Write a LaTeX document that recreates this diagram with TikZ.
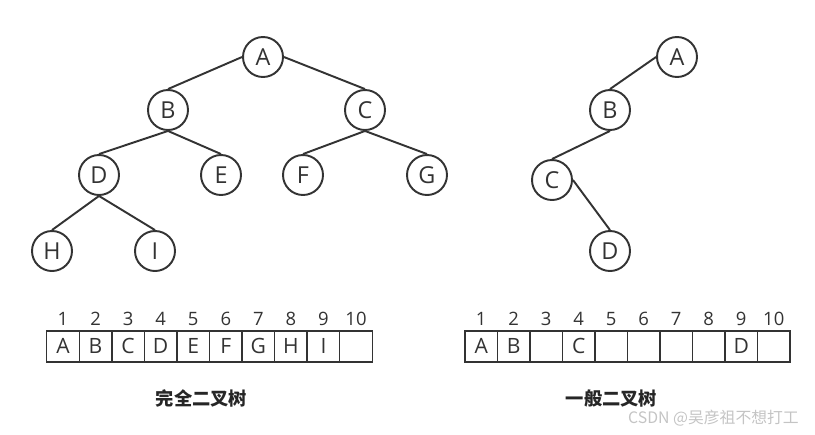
\documentclass[tikz,border=0pt]{standalone}
\usepackage{fontspec}
\setmainfont{Open Sans}
\newfontfamily\cjkfont{Noto Sans CJK SC}
\usetikzlibrary{positioning}
\definecolor{inkGray}{HTML}{333333}
\definecolor{markGray}{HTML}{C4C4C4}
\tikzset{
  treenode/.style={circle, draw=inkGray, line width=1.1pt, minimum size=0.8cm, inner sep=0pt, font=\fontsize{13.3}{15}\selectfont, text=inkGray},
  treeedge/.style={draw=inkGray, line width=1.1pt},
  cell/.style={rectangle, draw=inkGray, line width=0.8pt, minimum width=0.652cm, minimum height=0.62cm, inner sep=0pt, outer sep=0pt, font=\fontsize{12}{14}\selectfont, text=inkGray},
  idx/.style={font=\fontsize{10.5}{12}\selectfont, text=inkGray},
  caption/.style={font=\cjkfont\bfseries\fontsize{10.4}{12}\selectfont, text=black!85},
}
\begin{document}
\begin{tikzpicture}[x=0.02cm,y=-0.02cm]
  \useasboundingbox (0,0) rectangle (815,434);

  % complete binary tree
  \node[treenode] (A) at (263,57) {A};
  \node[treenode] (B) at (168,110) {B};
  \node[treenode] (C) at (365,110) {C};
  \node[treenode] (D) at (99,175) {D};
  \node[treenode] (E) at (221,175) {E};
  \node[treenode] (F) at (303,175) {F};
  \node[treenode] (G) at (427,175) {G};
  \node[treenode] (H) at (52,251) {H};
  \node[treenode] (I) at (155,251) {I};
  \draw[treeedge] (A.west) -- (B.north);
  \draw[treeedge] (A.east) -- (C.north);
  \draw[treeedge] (B.south) -- (D.north);
  \draw[treeedge] (B.south) -- (E.north);
  \draw[treeedge] (C.south) -- (F.north);
  \draw[treeedge] (C.south) -- (G.north);
  \draw[treeedge] (D.south) -- (H.north);
  \draw[treeedge] (D.south) -- (I.north);

  % general binary tree
  \node[treenode] (a) at (677,57) {A};
  \node[treenode] (b) at (610,110) {B};
  \node[treenode] (c) at (552,180) {C};
  \node[treenode] (d) at (610,251) {D};
  \draw[treeedge] (a.west) -- (b.north);
  \draw[treeedge] (b.south) -- (c.north);
  \draw[treeedge] (c.east) -- (d.north);

  % arrays
  \foreach \t [count=\i] in {A,B,C,D,E,F,G,H,I,{}} {
    \node[cell] (L\i) at ({46.7+32.56*(\i-0.5)},346.3) {\t};
    \node[idx] (Ln\i) at ({46.7+32.56*(\i-0.5)},319) {\i};
  }
  \foreach \t [count=\i] in {A,B,{},C,{},{},{},{},D,{}} {
    \node[cell] (R\i) at ({465+32.5*(\i-0.5)},346.3) {\t};
    \node[idx] (Rn\i) at ({465+32.5*(\i-0.5)},319) {\i};
  }

  % captions
  \node[caption] (capL) at (201.5,398.5) {完全二叉树};
  \node[caption] (capR) at (611.5,398.5) {一般二叉树};
  \node[font=\cjkfont\fontsize{9}{10}\selectfont, text=markGray, anchor=east] (mark) at (805,418) {CSDN @吴彦祖不想打工};
\end{tikzpicture}
\end{document}
